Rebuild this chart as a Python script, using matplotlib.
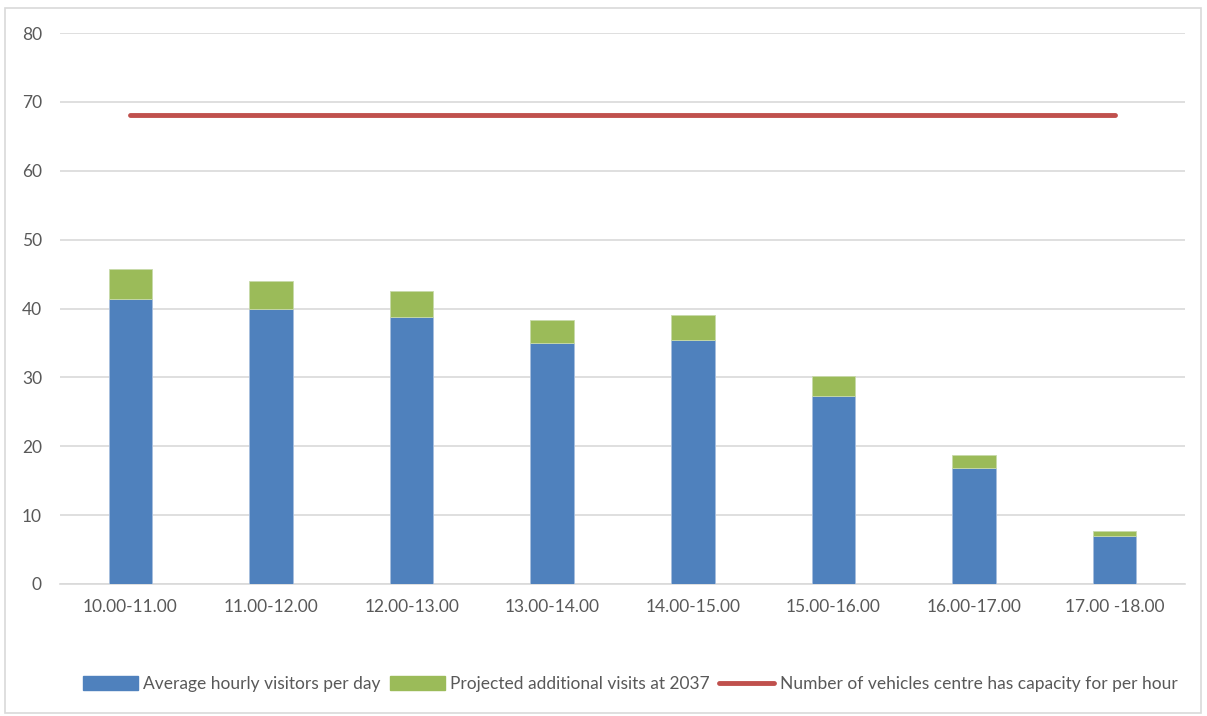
import matplotlib
matplotlib.use('Agg')
import matplotlib.pyplot as plt
import matplotlib.patches as mpatches
from matplotlib.lines import Line2D
import numpy as np

plt.rcParams.update({'font.family': ['Lato', 'DejaVu Sans']})

# hourly slots and visitor numbers
slots = ['10.00-11.00', '11.00-12.00', '12.00-13.00', '13.00-14.00',
         '14.00-15.00', '15.00-16.00', '16.00-17.00', '17.00 -18.00']
avg_visitors = [41.4, 39.9, 38.7, 35.0, 35.4, 27.3, 16.9, 6.9]
extra_2037 = [4.3, 4.1, 3.9, 3.4, 3.6, 2.9, 1.8, 0.8]
capacity = [68.1] * len(slots)

blue = '#4F81BD'
green = '#9BBB59'
red = '#C0504D'
txt = '#595959'

fig = plt.figure(figsize=(12.07, 7.16), dpi=100)
ax = fig.add_axes([60 / 1207, 1 - 584 / 716, 1125 / 1207, 551 / 716])

# light frame around the chart area
fig.patches.append(mpatches.Rectangle((5 / 1207, 1 - 713 / 716), 1196 / 1207, 705 / 716,
                                      transform=fig.transFigure, fill=False,
                                      edgecolor='#D9D9D9', linewidth=1.2))

x = np.arange(len(slots))
w = 0.31
ax.bar(x, avg_visitors, width=w, color=blue, edgecolor='#A7BEDE', linewidth=0.6,
       label='Average hourly visitors per day', zorder=3)
ax.bar(x, extra_2037, width=w, bottom=avg_visitors, color=green, edgecolor='#C8DAAA',
       linewidth=0.6, label='Projected additional visits at 2037', zorder=3)
ax.plot(x, capacity, color=red, linewidth=3.5, solid_capstyle='round',
        label='Number of vehicles centre has capacity for per hour', zorder=4)

ax.set_xlim(-0.5, len(slots) - 0.5)
ax.set_ylim(0, 80)
ax.set_yticks(range(0, 81, 10))
ax.set_xticks(x)
ax.set_xticklabels(slots)
ax.yaxis.grid(True, color='#D9D9D9', linewidth=1.2, zorder=0)
ax.set_axisbelow(True)
for s in ['top', 'right', 'left']:
    ax.spines[s].set_visible(False)
ax.spines['bottom'].set_color('#D9D9D9')
ax.spines['bottom'].set_linewidth(1.2)
ax.tick_params(axis='both', length=0, colors=txt, labelsize=12.5)
ax.tick_params(axis='y', pad=13)
ax.tick_params(axis='x', pad=11)

handles = [mpatches.Patch(color=blue), mpatches.Patch(color=green),
           Line2D([0], [0], color=red, linewidth=3.5, solid_capstyle='round')]
labels = ['Average hourly visitors per day', 'Projected additional visits at 2037',
          'Number of vehicles centre has capacity for per hour']
leg = fig.legend(handles, labels, loc='center', bbox_to_anchor=(630 / 1207, 1 - 684 / 716),
                 ncol=3, frameon=False, fontsize=12.5, handlelength=3.2, handleheight=0.8,
                 handletextpad=0.3, columnspacing=0.5)
for t in leg.get_texts():
    t.set_color(txt)

fig.savefig('out.png', dpi=100)
